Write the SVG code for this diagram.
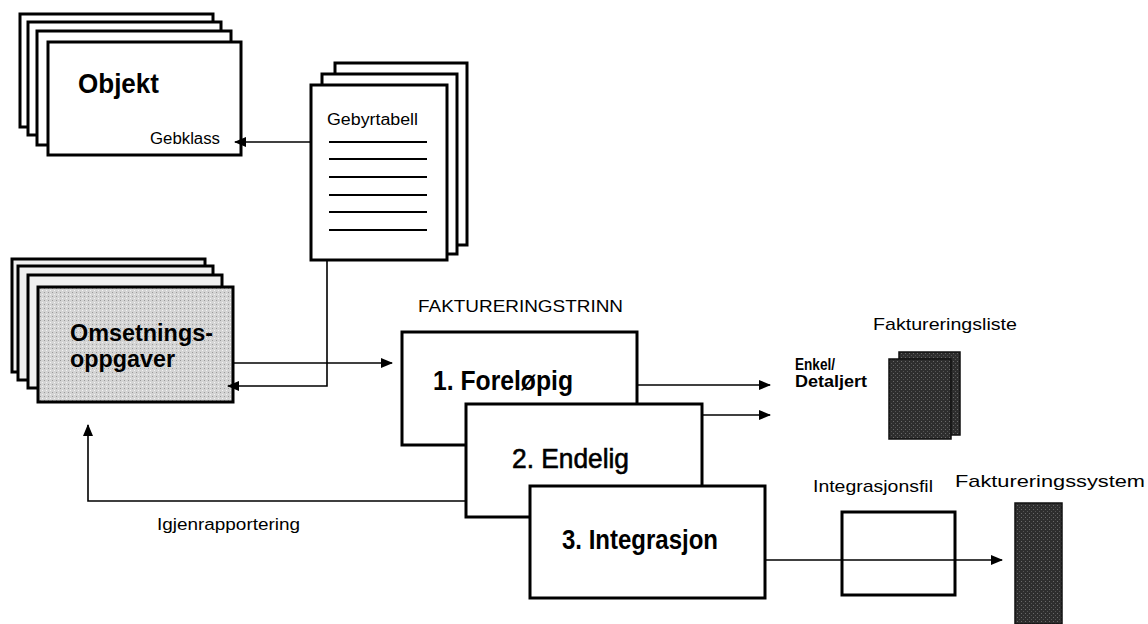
<svg xmlns="http://www.w3.org/2000/svg" width="1148" height="624" viewBox="0 0 1148 624">
<defs>
<marker id="ah" viewBox="0 0 12 10" refX="11" refY="5" markerWidth="12" markerHeight="10" markerUnits="userSpaceOnUse" orient="auto">
<path d="M0,0 L12,5 L0,10 Z" fill="#000"/>
</marker>
<pattern id="dots" width="4" height="4" patternUnits="userSpaceOnUse">
<rect width="4" height="4" fill="#d4d4d4"/>
<rect x="0" y="0" width="1" height="1" fill="#9a9a9a"/>
<rect x="2" y="2" width="1" height="1" fill="#f4f4f4"/>
</pattern>
<pattern id="dark" width="4" height="4" patternUnits="userSpaceOnUse">
<rect width="4" height="4" fill="#2e2e2e"/>
<rect x="1" y="1" width="1" height="1" fill="#6a6a6a"/>
<rect x="3" y="3" width="1" height="1" fill="#555"/>
</pattern>
</defs>
<style>
.box{fill:#fff;stroke:#000;stroke-width:3}
.lt{fill:#f0f0f0;stroke:#000;stroke-width:3}
.ln{fill:none;stroke:#000;stroke-width:1.6}
.rule{stroke:#000;stroke-width:2.2}
text{font-family:"Liberation Sans",Arial,sans-serif;fill:#000}
.big{font-size:27px;font-weight:bold}
.reg{font-size:17px}
.sm{font-size:16px}
</style>
<rect width="1148" height="624" fill="#fff"/>

<g id="objekt">
<rect class="box" x="20" y="14" width="193" height="113"/>
<rect class="box" x="28" y="22" width="193" height="113"/>
<rect class="box" x="37" y="31" width="194" height="114"/>
<rect class="box" x="48" y="42" width="193" height="113"/>
<text class="big" x="78" y="93" textLength="81" lengthAdjust="spacingAndGlyphs">Objekt</text>
<text class="sm" x="150" y="144" textLength="70" lengthAdjust="spacingAndGlyphs">Gebklass</text>
</g>

<g id="gebyrtabell">
<rect class="box" x="335" y="63" width="132" height="182"/>
<rect class="box" x="322" y="74" width="135" height="180"/>
<rect class="box" x="311" y="85" width="136" height="175"/>
<text class="sm" x="327" y="125" textLength="91" lengthAdjust="spacingAndGlyphs">Gebyrtabell</text>
<line class="rule" x1="329" y1="142" x2="427" y2="142"/>
<line class="rule" x1="329" y1="159" x2="427" y2="159"/>
<line class="rule" x1="329" y1="177" x2="427" y2="177"/>
<line class="rule" x1="329" y1="195" x2="427" y2="195"/>
<line class="rule" x1="329" y1="212" x2="427" y2="212"/>
<line class="rule" x1="329" y1="230" x2="427" y2="230"/>
</g>

<g id="omsetningsoppgaver">
<rect class="lt" x="12" y="259" width="193" height="113"/>
<rect class="lt" x="18" y="266" width="195" height="114"/>
<rect class="lt" x="28" y="275" width="194" height="113"/>
<rect x="38" y="287" width="195" height="115" fill="url(#dots)" stroke="#000" stroke-width="3"/>
<text x="70" y="341" font-size="23" font-weight="bold" textLength="143" lengthAdjust="spacingAndGlyphs">Omsetnings-</text>
<text x="70" y="367" font-size="23" font-weight="bold" textLength="105" lengthAdjust="spacingAndGlyphs">oppgaver</text>
</g>

<g id="faktureringstrinn">
<text class="reg" x="418" y="312" textLength="205" lengthAdjust="spacingAndGlyphs">FAKTURERINGSTRINN</text>
</g>

<g id="forelopig">
<rect class="box" x="402" y="332" width="235" height="113"/>
<text class="big" x="433" y="390" textLength="140" lengthAdjust="spacingAndGlyphs">1. Foreløpig</text>
</g>

<g id="endelig">
<rect class="box" x="466" y="404" width="236" height="113"/>
<text x="512" y="468" font-size="27" stroke="#000" stroke-width="0.6" textLength="117" lengthAdjust="spacingAndGlyphs">2. Endelig</text>
</g>

<g id="integrasjon">
<rect class="box" x="530" y="486" width="235" height="112"/>
<text class="big" x="562" y="549" textLength="156" lengthAdjust="spacingAndGlyphs">3. Integrasjon</text>
</g>

<g id="enkel">
<text x="795" y="370" font-size="16" font-weight="bold" textLength="40" lengthAdjust="spacingAndGlyphs">Enkel/</text>
<text x="795" y="387" font-size="16" font-weight="bold" textLength="72" lengthAdjust="spacingAndGlyphs">Detaljert</text>
</g>

<g id="faktureringsliste">
<text class="reg" x="873" y="330" textLength="144" lengthAdjust="spacingAndGlyphs">Faktureringsliste</text>
<rect x="899" y="352" width="61" height="83" fill="url(#dark)" stroke="#111" stroke-width="1.5"/>
<rect x="889" y="359" width="62" height="80" fill="url(#dark)" stroke="#111" stroke-width="1.5"/>
</g>

<g id="integrasjonsfil">
<text class="reg" x="813" y="492" textLength="120" lengthAdjust="spacingAndGlyphs">Integrasjonsfil</text>
<rect class="box" x="842" y="512" width="113" height="83"/>
</g>

<g id="faktureringssystem">
<text class="reg" x="955" y="487" textLength="190" lengthAdjust="spacingAndGlyphs">Faktureringssystem</text>
<rect x="1015" y="503" width="47" height="121" fill="url(#dark)" stroke="#111" stroke-width="1.5"/>
</g>

<g id="igjen">
<text class="sm" x="157" y="530" textLength="143" lengthAdjust="spacingAndGlyphs">Igjenrapportering</text>
</g>

<g id="connectors">
<line class="ln" x1="311" y1="142" x2="235" y2="142" marker-end="url(#ah)"/>
<polyline class="ln" points="327,260 327,386 228,386" marker-end="url(#ah)"/>
<line class="ln" x1="233" y1="363" x2="392" y2="363" marker-end="url(#ah)"/>
<line class="ln" x1="637" y1="385" x2="770" y2="385" marker-end="url(#ah)"/>
<line class="ln" x1="702" y1="415" x2="770" y2="415" marker-end="url(#ah)"/>
<line class="ln" x1="765" y1="560" x2="1002" y2="560" marker-end="url(#ah)"/>
<polyline class="ln" points="466,501 88,501 88,425" marker-end="url(#ah)"/>
</g>
</svg>
